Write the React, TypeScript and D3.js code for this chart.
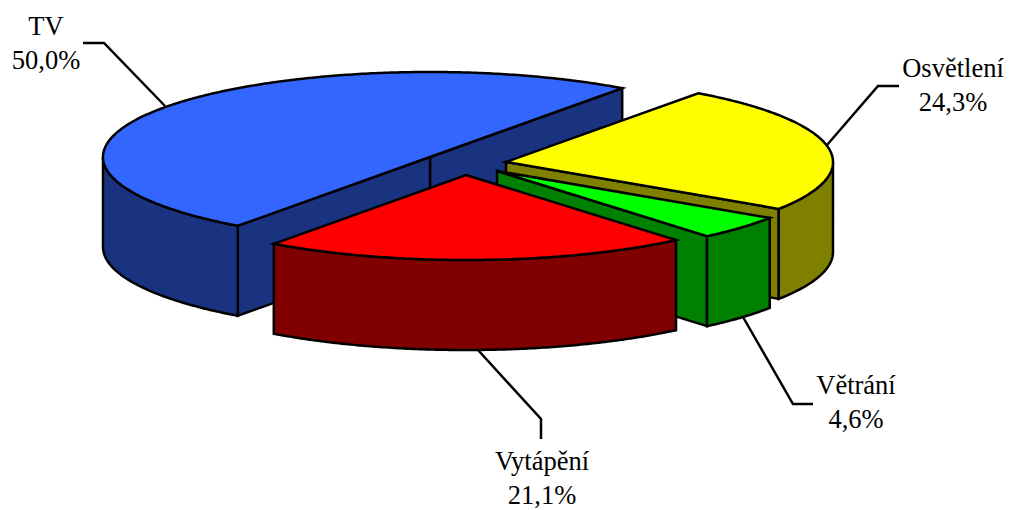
import React from "react";
import * as d3 from "d3";

// Energy use by category, in percent
const categories = ["TV", "Osvětlení", "Větrání", "Vytápění"];
const shares = [50.0, 24.3, 4.6, 21.1];
const shareLabels = ["50,0%", "24,3%", "4,6%", "21,1%"];
const topColors = ["#3366FF", "#FFFF00", "#00FF00", "#FF0000"];
const wallColors = ["#1A3380", "#808000", "#008000", "#800000"];

// Layout of the exploded wedges
const WIDTH = 1009;
const HEIGHT = 510;
const RX = 327;
const RY = 85;
const DEPTH = 90;
const START_DEG = 216;
const centers: [number, number][] = [
  [430, 157],
  [506, 162],
  [497, 171],
  [466, 175],
];
const leaders: [number, number][][] = [
  [[83, 43], [104, 43], [165, 106]],
  [[899, 86], [878, 86], [827, 145]],
  [[813, 404], [793, 404], [743, 317]],
  [[541, 439], [541, 419], [478, 350]],
];
const labelAnchors: [number, number][] = [
  [46, 35],
  [953, 77],
  [856, 394],
  [542, 470],
];
const LINE_GAP = 34;

const startRad = (START_DEG * Math.PI) / 180;
const wedges = d3
  .pie<number>()
  .sort(null)
  .startAngle(startRad)
  .endAngle(startRad + 2 * Math.PI)(shares);

const xUnit = d3.scaleLinear().domain([-1, 1]).range([-RX, RX]);
const yUnit = d3.scaleLinear().domain([-1, 1]).range([-RY, RY]);

// Angle is clockwise from the top of the ellipse
const rim = (c: [number, number], a: number, drop = 0): [number, number] => [
  c[0] + xUnit(Math.sin(a)),
  c[1] - yUnit(Math.cos(a)) + drop,
];

const line = d3.line<[number, number]>();
const sampleAngles = (a0: number, a1: number) => {
  const n = Math.max(2, Math.ceil(Math.abs(a1 - a0) / 0.01));
  return d3.range(n + 1).map((i) => a0 + ((a1 - a0) * i) / n);
};

// Part of [a0, a1] on the near half of the rim, where the outer wall shows
const frontRange = (a0: number, a1: number): [number, number] | null => {
  const turn = 2 * Math.PI;
  for (const k of [-1, 0, 1, 2]) {
    const lo = Math.max(a0, Math.PI / 2 + k * turn);
    const hi = Math.min(a1, (3 * Math.PI) / 2 + k * turn);
    if (hi > lo) return [lo, hi];
  }
  return null;
};

function Wedge({ index }: { index: number }) {
  const c = centers[index];
  const { startAngle: a0, endAngle: a1 } = wedges[index];
  const top = line([c, ...sampleAngles(a0, a1).map((a) => rim(c, a))])! + "Z";
  const cut = (a: number) =>
    line([c, rim(c, a), rim(c, a, DEPTH), [c[0], c[1] + DEPTH]])! + "Z";
  const front = frontRange(a0, a1);
  const wall = front
    ? line([
        ...sampleAngles(front[0], front[1]).map((a) => rim(c, a)),
        ...sampleAngles(front[1], front[0]).map((a) => rim(c, a, DEPTH)),
      ])! + "Z"
    : null;
  const fill = wallColors[index];
  // A cut face shows only when the wedge's interior lies above its edge
  return (
    <g stroke="#000" strokeWidth={2.5} strokeLinejoin="miter">
      {Math.sin(a1) > 0 && <path d={cut(a1)} fill={fill} />}
      {Math.sin(a0) < 0 && <path d={cut(a0)} fill={fill} />}
      {wall && <path d={wall} fill={fill} />}
      <path d={top} fill={topColors[index]} />
    </g>
  );
}

export default function App() {
  return (
    <svg
      width={WIDTH}
      height={HEIGHT}
      viewBox={`0 0 ${WIDTH} ${HEIGHT}`}
      style={{ position: "absolute", left: 0, top: 0, background: "#fff" }}
    >
      {leaders.map((pts, i) => (
        <path key={i} d={line(pts)!} fill="none" stroke="#000" strokeWidth={2.5} />
      ))}
      {categories.map((_, i) => (
        <Wedge key={i} index={i} />
      ))}
      {categories.map((name, i) => (
        <text
          key={name}
          x={labelAnchors[i][0]}
          y={labelAnchors[i][1]}
          textAnchor="middle"
          fontFamily="'Liberation Serif', serif"
          fontSize={26.5}
          fill="#000"
        >
          <tspan x={labelAnchors[i][0]}>{name}</tspan>
          <tspan x={labelAnchors[i][0]} dy={LINE_GAP}>
            {shareLabels[i]}
          </tspan>
        </text>
      ))}
    </svg>
  );
}
